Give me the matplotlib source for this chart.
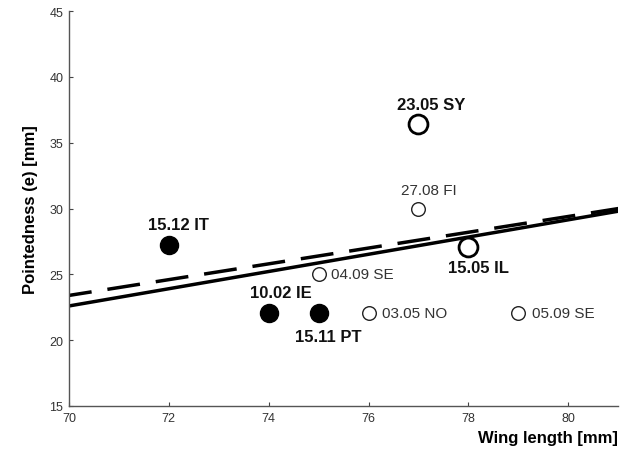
import matplotlib
matplotlib.use("Agg")
import matplotlib.pyplot as plt
import numpy as np

plt.rcParams['font.family'] = ['Liberation Sans', 'DejaVu Sans']

# Data
filled_x = [72, 74, 75]
filled_y = [27.2, 22.1, 22.1]
filled_labels = ["15.12 IT", "10.02 IE", "15.11 PT"]
filled_label_pos = [(72.2, 28.8), (74.25, 23.6), (75.2, 20.3)]

big_open_x = [77, 78]
big_open_y = [36.4, 27.1]
big_open_labels = ["23.05 SY", "15.05 IL"]
big_open_label_pos = [(77.25, 37.9), (78.2, 25.5)]

small_open_x = [77, 75, 76, 79]
small_open_y = [30.0, 25.0, 22.1, 22.1]
small_open_labels = ["27.08 FI", "04.09 SE", "03.05 NO", "05.09 SE"]
small_open_label_pos = [(77.2, 31.4), (75.24, 25.0), (76.27, 22.1), (79.27, 22.1)]
small_open_label_ha = ["center", "left", "left", "left"]

line_x = [70, 81]
solid_y = [22.6, 29.8]
dashed_y = [23.4, 30.0]

xticks = [70, 72, 74, 76, 78, 80]
yticks = [15, 20, 25, 30, 35, 40, 45]

fig = plt.figure(figsize=(6.27, 4.52), dpi=100)
ax = fig.add_axes([0.110, 0.0996, 0.876, 0.8735])

ax.plot(line_x, solid_y, color='black', lw=2.5, solid_capstyle='butt')
ax.plot(line_x, dashed_y, color='black', lw=2.5, linestyle=(2.9, (9.5, 4.6)),
        dash_capstyle='butt')

ax.plot(filled_x, filled_y, 'o', ms=13, mfc='black', mec='black', mew=1, ls='none')
ax.plot(big_open_x, big_open_y, 'o', ms=13.6, mfc='white', mec='black', mew=2, ls='none')
ax.plot(small_open_x, small_open_y, 'o', ms=9.8, mfc='white', mec='#222222', mew=1, ls='none')

for lab, (tx, ty) in zip(filled_labels, filled_label_pos):
    ax.text(tx, ty, lab, fontsize=12, fontweight='bold', ha='center', va='center', color='#111111')
for lab, (tx, ty) in zip(big_open_labels, big_open_label_pos):
    ax.text(tx, ty, lab, fontsize=12, fontweight='bold', ha='center', va='center', color='#111111')
for lab, (tx, ty), ha in zip(small_open_labels, small_open_label_pos, small_open_label_ha):
    ax.text(tx, ty, lab, fontsize=11, ha=ha, va='center', color='#333333')

ax.set_xlim(70, 81)
ax.set_ylim(15, 45)
ax.set_xticks(xticks)
ax.set_yticks(yticks)
ax.tick_params(direction='in', length=3, width=0.8, colors='#444444', labelsize=9,
               labelcolor='#333333', pad=4)
for s in ['top', 'right']:
    ax.spines[s].set_visible(False)
for s in ['left', 'bottom']:
    ax.spines[s].set_color('#555555')
    ax.spines[s].set_linewidth(1.0)

ax.set_xlabel("Wing length [mm]", fontsize=12, fontweight='bold', loc='right', labelpad=5)
ax.set_ylabel("Pointedness (e) [mm]", fontsize=12, fontweight='bold', labelpad=8)

fig.savefig("out.png", dpi=100)
